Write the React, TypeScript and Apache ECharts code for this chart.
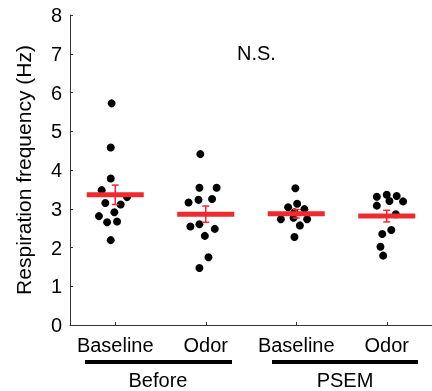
import React, { useEffect, useRef } from "react";
import * as echarts from "echarts";

const categories = ["Baseline", "Odor", "Baseline", "Odor"];
const groups = ["Before", "PSEM"];
const yTicks = [0, 1, 2, 3, 4, 5, 6, 7, 8];

// individual values (Hz) and horizontal jitter (category units) per condition
const beforeBaseline = [5.72, 4.58, 3.78, 3.48, 3.3, 3.15, 3.11, 2.91, 2.81, 2.65, 2.67, 2.19];
const beforeBaselineJitter = [-0.04, -0.05, -0.05, -0.15, 0.13, -0.11, 0.06, -0.01, -0.18, -0.09, 0.02, -0.05];
const beforeOdor = [4.41, 3.54, 3.54, 3.16, 3.23, 3.25, 2.54, 2.6, 2.48, 2.3, 1.75, 1.47];
const beforeOdorJitter = [-0.06, -0.07, 0.12, -0.19, -0.08, 0.07, -0.17, -0.07, 0.1, -0.01, 0.03, -0.07];
const psemBaseline = [3.53, 3.04, 3.13, 2.99, 2.91, 2.73, 2.77, 2.73, 2.57, 2.27];
const psemBaselineJitter = [-0.01, -0.09, 0.01, 0.09, -0.02, -0.17, -0.03, 0.12, 0.04, -0.02];
const psemOdor = [3.31, 3.36, 3.33, 3.19, 3.08, 3.2, 2.86, 2.45, 2.35, 2.02, 1.79];
const psemOdorJitter = [-0.11, 0.0, 0.11, 0.18, -0.11, 0.03, 0.1, 0.05, -0.05, -0.07, -0.04];

const means = [3.36, 2.86, 2.87, 2.81];
const sems = [0.25, 0.21, 0.11, 0.15];

const RED = "#ee2a2f";
const FONT = "Liberation Sans, Arial, sans-serif";

export default function App() {
  const ref = useRef<HTMLDivElement>(null);
  useEffect(() => {
    if (!ref.current) return;
    const chart = echarts.init(ref.current, undefined, { renderer: "svg" });
    const sets = [
      [beforeBaseline, beforeBaselineJitter],
      [beforeOdor, beforeOdorJitter],
      [psemBaseline, psemBaselineJitter],
      [psemOdor, psemOdorJitter],
    ];
    const points: number[][] = [];
    sets.forEach(([vals, jit], i) => {
      vals.forEach((v, k) => points.push([i + 1 + jit[k], v]));
    });
    const meanData = means.map((m, i) => [i + 1, m]);
    const errData = means.map((m, i) => [i + 1, m - sems[i], m + sems[i]]);

    chart.setOption({
      animation: false,
      textStyle: { fontFamily: FONT },
      grid: { left: 70, right: -9, top: 15, bottom: 66, containLabel: false },
      xAxis: [
        {
          type: "category",
          data: categories,
          boundaryGap: true,
          axisLine: { show: true, lineStyle: { color: "#333", width: 1 } },
          axisTick: { show: true, inside: true, alignWithLabel: true, length: 3, lineStyle: { color: "#333" } },
          axisLabel: { color: "#000", fontSize: 20, margin: 10, interval: 0, fontFamily: FONT },
          splitLine: { show: false },
        },
        {
          type: "value",
          min: 0.5,
          max: 4.5,
          show: false,
        },
      ],
      yAxis: {
        type: "value",
        min: 0,
        max: 8,
        interval: 1,
        name: "Respiration frequency (Hz)",
        nameLocation: "middle",
        nameGap: 36,
        nameTextStyle: { color: "#000", fontSize: 21, fontFamily: FONT },
        axisLine: { show: true, lineStyle: { color: "#333", width: 1 } },
        axisTick: { show: true, inside: true, length: 3, lineStyle: { color: "#333" } },
        axisLabel: {
          color: "#000",
          fontSize: 20,
          margin: 8,
          fontFamily: FONT,
          formatter: (v: number) => (yTicks.includes(v) ? String(v) : ""),
        },
        splitLine: { show: false },
      },
      series: [
        {
          type: "scatter",
          xAxisIndex: 1,
          data: points,
          symbol: "circle",
          symbolSize: 8,
          itemStyle: { color: "#000", opacity: 1 },
          z: 2,
        },
        {
          type: "scatter",
          xAxisIndex: 1,
          data: meanData,
          symbol: "rect",
          symbolSize: [57, 5],
          itemStyle: { color: RED, opacity: 1 },
          z: 3,
        },
        {
          type: "custom",
          xAxisIndex: 1,
          data: errData,
          z: 4,
          renderItem: (params: any, api: any) => {
            const x = api.value(0);
            const lo = api.coord([x, api.value(1)]);
            const hi = api.coord([x, api.value(2)]);
            const cw = 3.5;
            const style = { stroke: RED, lineWidth: 1.5 };
            return {
              type: "group",
              children: [
                { type: "line", shape: { x1: lo[0], y1: lo[1], x2: hi[0], y2: hi[1] }, style },
                { type: "line", shape: { x1: lo[0] - cw, y1: lo[1], x2: lo[0] + cw, y2: lo[1] }, style },
                { type: "line", shape: { x1: hi[0] - cw, y1: hi[1], x2: hi[0] + cw, y2: hi[1] }, style },
              ],
            };
          },
        },
      ],
      graphic: [
        { type: "text", left: 237, top: 43, style: { text: "N.S.", fontSize: 20, fill: "#000", fontFamily: FONT } },
        { type: "rect", shape: { x: 85, y: 360, width: 147, height: 4 }, style: { fill: "#000" } },
        { type: "rect", shape: { x: 272, y: 360, width: 146, height: 4 }, style: { fill: "#000" } },
        {
          type: "text",
          x: 158,
          y: 380,
          style: { text: groups[0], fontSize: 20, fill: "#000", fontFamily: FONT, align: "center", verticalAlign: "middle" },
        },
        {
          type: "text",
          x: 345,
          y: 380,
          style: { text: groups[1], fontSize: 20, fill: "#000", fontFamily: FONT, align: "center", verticalAlign: "middle" },
        },
      ],
    });
    return () => chart.dispose();
  }, []);
  return <div ref={ref} style={{ width: 432, height: 391, position: "fixed", left: 0, top: 0 }} />;
}
